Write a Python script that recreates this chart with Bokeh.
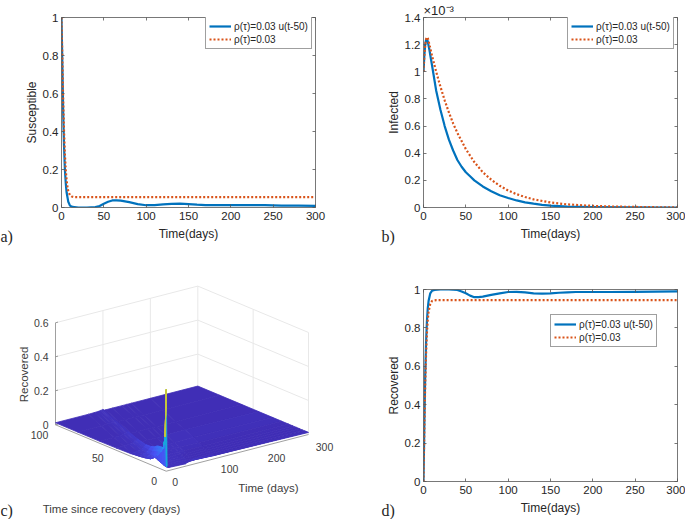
import numpy as np
from bokeh.core.properties import value
from bokeh.embed import file_html
from bokeh.layouts import column, row
from bokeh.models import (ColumnDataSource, FixedTicker, Legend, LegendItem, LinearAxis,
                          LinearColorMapper, Range1d, Title)
from bokeh.plotting import figure
from bokeh.resources import INLINE
from bokeh.transform import transform

FONT = "Liberation Sans"
BLUE = "#0072BD"
ORANGE = "#D95319"
INK = "#262626"
LABEL_SOLID = "ρ(τ)=0.03 u(t-50)"
LABEL_DOT = "ρ(τ)=0.03"

time_ticks = [0, 50, 100, 150, 200, 250, 300]
time_tick_labels = ["0", "50", "100", "150", "200", "250", "300"]
unit_ticks = [0, 0.2, 0.4, 0.6, 0.8, 1]
unit_tick_labels = ["0", "0.2", "0.4", "0.6", "0.8", "1"]
infected_ticks = [0, 0.2e-3, 0.4e-3, 0.6e-3, 0.8e-3, 1e-3, 1.2e-3, 1.4e-3]
infected_tick_labels = ["0", "0.2", "0.4", "0.6", "0.8", "1", "1.2", "1.4"]

sus_blue_t = [0, 1, 2, 3, 4, 5, 6, 8, 10, 13, 20, 30, 40, 45, 50, 55, 60, 65, 70, 80, 90, 100, 110, 120,
              130, 140, 150, 160, 170, 180, 200, 220, 240, 260, 280, 300]
sus_blue = [1, .75, .5, .32, .2, .13, .08, .03, .01, .003, 0, 0, .002, .008, .02, .03, .037, .038, .036,
            .028, .018, .012, .012, .016, .019, .02, .018, .015, .013, .012, .013, .013, .012, .01, .01, .009]
sus_orange_t = [0, 1, 2, 3, 4, 5, 6, 7, 8, 10, 12, 15, 300]
sus_orange = [1, .78, .56, .4, .28, .2, .145, .11, .085, .065, .058, .055, .055]

inf_blue_t = [0, 1, 2, 3, 4, 5, 7, 10, 15, 20, 25, 30, 35, 40, 45, 50, 55, 60, 70, 80, 90, 100, 110, 120,
              130, 140, 150, 170, 200, 250, 300]
inf_blue = [1, 1.12, 1.2, 1.235, 1.24, 1.225, 1.16, 1.05, .86, .72, .6, .5, .42, .35, .3, .26, .23, .2,
            .155, .12, .09, .07, .052, .038, .028, .02, .014, .007, .003, .001, 0]
inf_orange_t = [0, 1, 2, 3, 4, 5, 7, 10, 15, 20, 25, 30, 35, 40, 50, 60, 70, 80, 90, 100, 110, 120, 130,
                150, 170, 200, 225, 250, 275, 300]
inf_orange = [1, 1.12, 1.2, 1.24, 1.255, 1.25, 1.2, 1.12, 1.0, .89, .79, .7, .62, .55, .43, .335, .26,
              .205, .16, .125, .098, .077, .06, .037, .023, .012, .007, .004, .002, .001]

rec_blue_t = [0, 1, 2, 3, 4, 5, 6, 8, 10, 13, 20, 30, 40, 45, 50, 55, 60, 65, 70, 80, 90, 100, 110, 120,
              130, 140, 150, 160, 170, 180, 200, 220, 250, 300]
rec_blue = [0, .3, .55, .72, .83, .9, .94, .98, .993, .998, 1, 1, .998, .99, .98, .968, .96, .96, .963,
            .972, .98, .987, .988, .985, .98, .979, .98, .983, .985, .987, .987, .987, .988, .99]
rec_orange_t = [0, 1, 2, 3, 4, 5, 6, 8, 10, 12, 15, 300]
rec_orange = [0, .28, .5, .66, .77, .84, .885, .925, .94, .943, .945, .945]

# surface of panel c: rows are time since recovery, columns are (time - time since recovery), values x 1000
surf_tau = [0, 1, 2, 3, 5, 8, 11, 14, 18, 24, 32, 45, 60, 80, 100]
surf_offset = [-300, -30, -18, -10, -5, -2, 0, 2, 6, 20, 40, 50, 60, 100, 300]
surf_z = [
    [480, 480, 480, 480, 480, 480, 480, 30, 18, 16, 14, 26, 30, 20, 12],
    [200, 200, 200, 200, 200, 200, 200, 20, 16, 17, 14, 18, 20, 16, 12],
    [150, 150, 150, 150, 150, 150, 150, 20, 15, 18, 14, 16, 16, 14, 12],
    [125, 125, 125, 125, 125, 125, 130, 18, 15, 18, 14, 14, 14, 13, 12],
    [100, 100, 100, 100, 100, 110, 120, 16, 14, 18, 15, 13, 13, 13, 12],
    [70, 70, 70, 70, 90, 110, 115, 16, 13, 18, 15, 13, 13, 13, 12],
    [50, 50, 50, 55, 80, 100, 108, 15, 13, 17, 16, 13, 13, 13, 12],
    [35, 35, 35, 50, 72, 90, 100, 14, 13, 15, 18, 14, 13, 13, 12],
    [28, 28, 32, 42, 58, 74, 82, 14, 13, 14, 18, 15, 13, 13, 12],
    [22, 22, 28, 35, 45, 56, 62, 13, 13, 13, 16, 18, 17, 13, 12],
    [16, 16, 20, 25, 32, 40, 45, 13, 12, 12, 14, 15, 16, 18, 12],
    [13, 14, 17, 20, 26, 30, 33, 12, 12, 12, 13, 13, 14, 16, 12],
    [12, 13, 15, 17, 21, 24, 26, 12, 12, 12, 12, 12, 12, 12, 12],
    [12, 12, 14, 15, 18, 20, 21, 12, 12, 12, 12, 12, 12, 12, 12],
    [12, 12, 13, 14, 16, 17, 18, 12, 12, 12, 12, 12, 12, 12, 12],
]
z_ticks_c = [0, 0.2, 0.4, 0.6]
z_tick_labels_c = ["0", "0.2", "0.4", "0.6"]
tau_ticks_c = [0, 50, 100]
t_ticks_c = [0, 100, 200, 300]


def style_axis(ax, ticks):
    ax.ticker = FixedTicker(ticks=ticks)
    ax.axis_line_color = "#555555"
    ax.axis_line_width = 0.8
    ax.major_tick_line_color = "#555555"
    ax.major_tick_line_width = 0.8
    ax.major_tick_in = 3
    ax.major_tick_out = 0
    ax.minor_tick_line_color = None


def line_panel(width, height, left, right, top, bottom, ymax, yticks, ylabels, ylabel, series, lx, ly):
    p = figure(width=width, height=height, output_backend="svg", toolbar_location=None,
               x_range=Range1d(0, 300), y_range=Range1d(0, ymax),
               min_border_left=left, min_border_right=right, min_border_top=top, min_border_bottom=bottom)
    p.grid.visible = False
    p.outline_line_color = None
    p.background_fill_color = "white"
    p.border_fill_color = None
    for ax, ticks, labels in ((p.xaxis[0], time_ticks, time_tick_labels), (p.yaxis[0], yticks, ylabels)):
        style_axis(ax, ticks)
        ax.major_label_overrides = dict(zip(ticks, labels))
        ax.major_label_text_font = FONT
        ax.major_label_text_font_size = "11.5px"
        ax.major_label_text_color = INK
        ax.axis_label_text_font = FONT
        ax.axis_label_text_font_size = "12px"
        ax.axis_label_text_font_style = "normal"
        ax.axis_label_text_color = INK
    p.xaxis[0].axis_label = "Time(days)"
    p.xaxis[0].major_label_standoff = 4
    p.xaxis[0].axis_label_standoff = 4
    p.yaxis[0].axis_label = ylabel
    p.yaxis[0].major_label_standoff = 3
    p.yaxis[0].axis_label_standoff = 1
    for place, ticks in (("above", time_ticks), ("right", yticks)):
        ax = LinearAxis()
        style_axis(ax, ticks)
        ax.major_label_overrides = {v: "" for v in ticks}
        ax.major_label_standoff = 0
        p.add_layout(ax, place)
    (bx, by), (ox, oy) = series
    r1 = p.line(bx, by, line_color=BLUE, line_width=2.2, line_join="round")
    r2 = p.line(ox, oy, line_color=ORANGE, line_width=2.2, line_dash="2 2")
    legend = Legend(items=[LegendItem(label=value(LABEL_SOLID), renderers=[r1]),
                           LegendItem(label=value(LABEL_DOT), renderers=[r2])],
                    location=(lx, ly), orientation="vertical", padding=3, margin=0, spacing=1,
                    glyph_width=22, glyph_height=12, label_height=12, label_standoff=3,
                    label_text_font=FONT, label_text_font_size="10px", label_text_color=INK,
                    border_line_color="#404040", border_line_width=0.7, background_fill_color="white",
                    background_fill_alpha=1)
    p.add_layout(legend)
    return p


TOP_H, BOT_H, LEFT_W, RIGHT_W = 260, 259, 345, 340

pa = line_panel(LEFT_W, TOP_H, 61, 30, 15, 53, 1, unit_ticks, unit_tick_labels, "Susceptible",
                ((sus_blue_t, sus_blue), (sus_orange_t, sus_orange)), 144, 158)
pb = line_panel(RIGHT_W, TOP_H, 78, 8, 15, 53, 1.4e-3, infected_ticks, infected_tick_labels, "Infected",
                ((inf_blue_t, [v * 1e-3 for v in inf_blue]), (inf_orange_t, [v * 1e-3 for v in inf_orange])), 144, 158)
pd = line_panel(RIGHT_W, BOT_H, 78, 8, 29, 38, 1, unit_ticks, unit_tick_labels, "Recovered",
                ((rec_blue_t, rec_blue), (rec_orange_t, rec_orange)), 127, 134)
serif = dict(text_font="Liberation Serif", text_font_size="16px", text_color=INK, text_font_style="normal",
             align="left", vertical_align="top", text_baseline="top")
pa.add_layout(Title(text="a)", offset=-61, standoff=-32, **serif), "below")
pb.add_layout(Title(text="b)", offset=-42, standoff=-32, **serif), "below")
pd.add_layout(Title(text="d)", offset=-42, standoff=-32, **serif), "below")
pb.add_layout(Title(text="×10⁻³", align="left", text_font=FONT, text_font_size="13px", text_color=INK,
                    text_font_style="normal", standoff=0), "above")

# ---- panel c
pc = figure(width=LEFT_W, height=BOT_H, output_backend="svg", toolbar_location=None,
            x_range=Range1d(0, LEFT_W), y_range=Range1d(260 + BOT_H, 260),
            x_axis_type=None, y_axis_type=None,
            min_border_left=0, min_border_right=0, min_border_top=0, min_border_bottom=0)
pc.grid.visible = False
pc.outline_line_color = None


def proj(t, tau, z=0.0):
    t, tau, z = np.asarray(t, float), np.asarray(tau, float), np.asarray(z, float)
    return (165.7 + t * 142.3 / 300 - tau * 110.7 / 100,
            470.7 - t * 36.7 / 300 - tau * 46.4 / 100 - z * 170)


GRID = "#e8e8e8"
Z_TOP = z_ticks_c[-1]
wall_xs, wall_ys = [], []
for z in z_ticks_c[1:]:
    x, y = proj([0, 300, 300], [100, 100, 0], [z, z, z])
    wall_xs.append(list(x)); wall_ys.append(list(y))
for t in t_ticks_c[1:]:
    x, y = proj([t, t], [100, 100], [0, Z_TOP])
    wall_xs.append(list(x)); wall_ys.append(list(y))
for tau in tau_ticks_c[:-1]:
    x, y = proj([300, 300], [tau, tau], [0, Z_TOP])
    wall_xs.append(list(x)); wall_ys.append(list(y))
pc.multi_line(wall_xs, wall_ys, line_color=GRID, line_width=1)

# visible axes
ax_x, ax_y = proj([0, 0], [100, 100], [0, Z_TOP])
pc.line(ax_x, ax_y, line_color="#888888", line_width=0.8)
tx, ty = proj([0, 0, 0, 0], [100] * 4, z_ticks_c)
pc.segment(tx, ty, tx + 2.5, ty - 0.7, line_color="#888888", line_width=0.8)
ex, ey = proj([0, 0, 300], [100, 0, 0])
pc.line(ex, ey, line_color="#888888", line_width=0.8)

# surface, painted from the far corner to the near one
taus = np.array(surf_tau, float)
offs = np.array(surf_offset, float)
zvals = np.array(surf_z, float) / 1000.0
quads = []
for i in range(len(taus) - 2, -1, -1):
    for j in range(len(offs) - 2, -1, -1):
        ta = [taus[i], taus[i], taus[i + 1], taus[i + 1]]
        of = [offs[j], offs[j + 1], offs[j + 1], offs[j]]
        zz = [zvals[i, j], zvals[i, j + 1], zvals[i + 1, j + 1], zvals[i + 1, j]]
        tt = np.clip(np.array(ta) + np.array(of), 0, 300)
        x, y = proj(tt, ta, zz)
        quads.append((list(x), list(y), float(np.mean(zz))))

stops = np.array([[62, 38, 168], [72, 82, 244], [46, 135, 247], [18, 177, 214], [55, 200, 151],
                  [171, 199, 57], [254, 195, 56], [249, 251, 20]], float)
stop_pos = [0, .125, .25, .375, .5, .625, .8, 1]
palette = ["#%02x%02x%02x" % tuple(int(round(np.interp(u, stop_pos, stops[:, k]))) for k in range(3))
           for u in np.linspace(0, 1, 256)]
mapper = LinearColorMapper(palette=palette, low=0, high=0.5)
surf = ColumnDataSource(dict(xs=[q[0] for q in quads], ys=[q[1] for q in quads], z=[q[2] for q in quads]))
pc.patches("xs", "ys", source=surf, fill_color=transform("z", mapper), line_color=transform("z", mapper),
           line_width=0.8)


def put(xs, ys, texts, size, align="center", color="#404040", angle=0.0):
    pc.text(xs, ys, text=texts, text_font=value(FONT), text_font_size=value(size), text_color=color,
            text_align=align, text_baseline="middle", angle=angle)


x, y = proj([0] * 4, [100] * 4, z_ticks_c)
put(x - 7, y, z_tick_labels_c, "10.5px", align="right")
x, y = proj([0, 0, 0], tau_ticks_c)
put(x + np.array([-12, -13, -16]), y + np.array([9.5, 10, 10]), [str(v) for v in tau_ticks_c], "10.5px")
x, y = proj(t_ticks_c, [0] * 4)
put(x + np.array([9, 16, 15.5, 16]), y + np.array([11, 10.5, 11, 12]), [str(v) for v in t_ticks_c], "10.5px")
put([268], [487], ["Time (days)"], "11.5px")
put([111], [508], ["Time since recovery (days)"], "11.5px")
put([23], [374], ["Recovered"], "11.5px", angle=np.pi / 2)
pc.text([0], [510], text=["c)"], text_font=value("Liberation Serif"), text_font_size=value("16px"),
        text_color=INK, text_baseline="middle")

page = column(row(pa, pb), row(column(pc), column(pd)))
open("out.html", "w").write(file_html(page, INLINE))
